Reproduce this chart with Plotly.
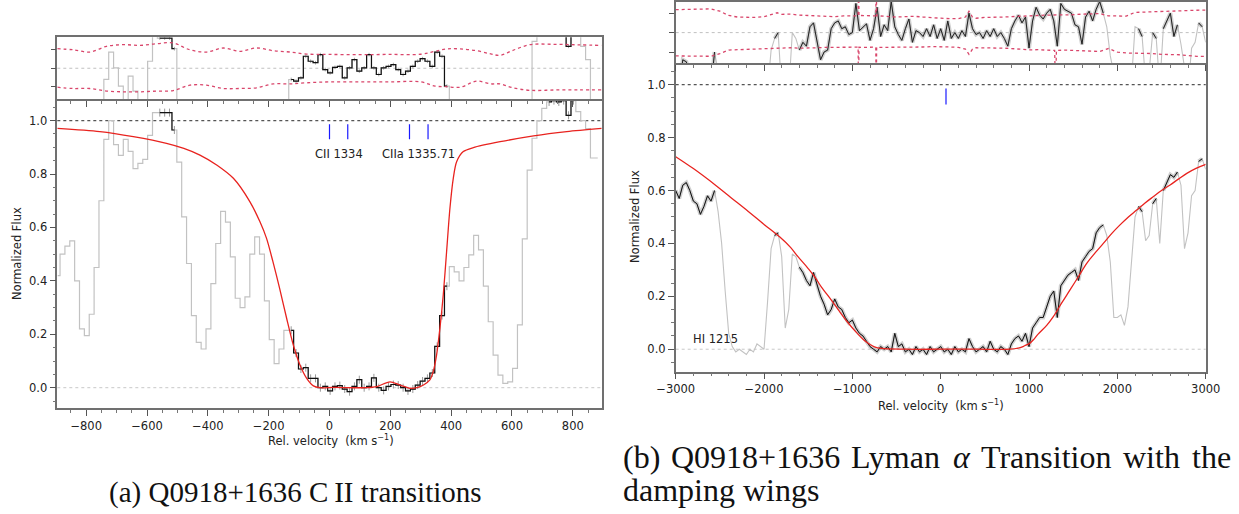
import plotly.graph_objects as go

W, H = 1239, 514

# ---------------- panel (a): C II 1334 and C II* 1335.71 ----------------
VEL_A = list(range(-894, 883, 16))          # km/s, pixel centres
FLUX_A = [
    0.42, 0.50, 0.53, 0.55, 0.40, 0.22, 0.195, 0.275, 0.45, 0.70,
    0.93, 1.00, 0.91, 0.87, 0.93, 0.885, 0.82, 0.84, 0.855, 0.945,
    1.03, 1.03, 1.03, 1.03, 0.965, 0.845, 0.64, 0.465, 0.27, 0.17,
    0.145, 0.22, 0.39, 0.54, 0.66, 0.62, 0.49, 0.335, 0.30, 0.34,
    0.50, 0.565, 0.50, 0.325, 0.18, 0.09, 0.145, 0.215, 0.215, 0.13,
    0.07, 0.075, 0.035, 0.035, 0.00, 0.005, -0.012, 0.005, 0.008, -0.005,
    -0.015, 0.005, 0.03, 0.00, 0.005, 0.037, 0.00, -0.01, 0.005, 0.012,
    0.01, 0.00, -0.012, -0.005, 0.01, 0.025, 0.035, 0.055, 0.155, 0.27,
    0.38, 0.453, 0.434, 0.40, 0.45, 0.497, 0.57, 0.516, 0.38, 0.247,
    0.122, 0.047, 0.016, 0.022, 0.072, 0.235, 0.557, 0.815, 0.934, 1.00,
    1.046, 1.07, 1.075, 1.07, 1.075, 1.02, 1.075, 1.034, 1.00, 0.97,
    0.86, 0.86,
]
RESID_A = [
    -3, -3, -3, -3, -3, -3, -3, -3, -3, -3,
    -0.6, 0.88, 0.02, -0.97, -2.5, -0.43, -1.24, -3, -3, 0.38,
    2.5, 1.64, 1.64, 1.64, 1.06, -3, -3, -3, -3, -3,
    -3, -3, -3, -3, -3, -3, -3, -3, -3, -3,
    -3, -3, -3, -3, -3, -3, -3, -3, -0.61, -0.70,
    -0.52, 0.65, 0.38, 0.30, 0.74, -0.07, -0.25, 0.05, 0.10, -0.52,
    0.02, 0.47, -0.16, 0.02, 0.74, 0.02, -0.34, 0.02, 0.10, 0.20,
    -0.07, -0.34, -0.16, 0.10, 0.38, 0.52, 0.38, 0.10, 0.88, 0.65,
    -0.97, -3, -3, -3, -3, -3, -3, -3, -3, -3,
    -3, -3, -3, -3, -3, -3, -3, -3, 1.46, 2.5,
    2.5, 2.5, 2.5, 2.5, 2.5, 1.19, 2.5, 2.0, 1.19, 0.47,
    -3, -3,
]
FIT_A = [(-570, -505), (-130, 390), (715, 810)]
ERR_A = 0.015

MODEL_A_V = [-895, -755, -645, -536, -479, -426, -371, -316, -262, -229,
             -207, -186, -164, -141, -119, -97, -75, -53, -31, 13,
             122, 155, 199, 232, 265, 287, 309, 330, 341, 352,
             363, 374, 385, 396, 407, 418, 440, 473, 561, 671,
             780, 895]
MODEL_A_F = [0.971, 0.959, 0.940, 0.915, 0.896, 0.871, 0.834, 0.784, 0.697, 0.622,
             0.559, 0.472, 0.372, 0.260, 0.160, 0.085, 0.035, 0.007, 0.0, 0.001,
             0.0, 0.004, 0.022, 0.010, -0.002, 0.0, 0.010, 0.029, 0.060, 0.122,
             0.222, 0.347, 0.509, 0.672, 0.784, 0.846, 0.884, 0.899, 0.921, 0.943,
             0.959, 0.971]

BAND_A_V = [-895, -842, -788, -733, -678, -623, -569, -514, -459, -404,
            -349, -295, -240, -185, -130, -75, 0, 100, 200, 300,
            347, 385, 430, 484, 530, 561, 600, 659, 740, 820, 895]
BAND_A_HI = [1.06, 1.00, 0.88, 1.19, 1.28, 1.24, 1.33, 1.37, 1.00, 0.88,
             1.10, 0.92, 1.10, 0.95, 0.88, 0.77, 0.75, 0.74, 0.75, 0.76,
             0.92, 1.05, 1.05, 0.95, 0.78, 0.70, 0.95, 1.28, 1.30, 1.27, 1.24]
BAND_A_LO = [-1.03, -1.10, -1.10, -1.24, -1.28, -1.28, -1.24, -1.21, -0.92, -0.92,
             -1.10, -1.10, -1.06, -0.85, -0.85, -0.79, -0.74, -0.74, -0.74, -0.74,
             -0.97, -1.00, -1.03, -0.70, -0.85, -0.85, -1.05, -1.20, -1.18, -1.17, -1.17]

LINES_A = [0, 60, 263, 324]
LINE_LABELS_A = [("CII 1334", 30), ("CIIa 1335.71", 293)]

# ---------------- panel (b): H I Lyman alpha ----------------
VEL_B = list(range(-3000, 3001, 40))
FLUX_B = [
    0.60, 0.57, 0.62, 0.63, 0.60, 0.56, 0.55, 0.51, 0.54, 0.58,
    0.56, 0.60, 0.52, 0.40, 0.22, 0.06, 0.01, -0.01, 0.00, -0.01,
    -0.02, 0.00, -0.01, 0.02, 0.01, 0.00, 0.18, 0.38, 0.43, 0.44,
    0.35, 0.08, 0.15, 0.36, 0.35, 0.31, 0.29, 0.26, 0.24, 0.29,
    0.24, 0.20, 0.17, 0.13, 0.15, 0.19, 0.16, 0.15, 0.12, 0.10,
    0.11, 0.08, 0.06, 0.05, 0.03, 0.01, 0.00, -0.01, 0.01, 0.00,
    0.01, -0.01, 0.06, 0.01, 0.02, -0.01, 0.00, -0.02, 0.01, -0.01,
    0.00, -0.02, 0.01, -0.01, 0.00, 0.01, -0.01, 0.00, -0.02, 0.01,
    -0.01, 0.00, -0.01, 0.04, 0.01, -0.01, 0.00, 0.01, -0.01, 0.03,
    0.00, -0.01, 0.01, 0.00, -0.02, 0.02, 0.04, 0.05, 0.03, 0.06,
    0.01, 0.08, 0.10, 0.12, 0.12, 0.16, 0.20, 0.22, 0.12, 0.24,
    0.26, 0.28, 0.29, 0.30, 0.26, 0.33, 0.35, 0.37, 0.38, 0.44,
    0.46, 0.47, 0.43, 0.33, 0.12, 0.12, 0.13, 0.09, 0.16, 0.32,
    0.50, 0.54, 0.52, 0.41, 0.43, 0.55, 0.57, 0.40, 0.60, 0.63,
    0.66, 0.65, 0.67, 0.62, 0.38, 0.44, 0.58, 0.60, 0.71, 0.72,
    0.68,
]
RESID_B = [
    -2.5, -3, -1.4, -1.5, -2.2, -3, -3, -3, -3, -2.5,
    -2.8, -1.0, -3, -3, -3, -3, -3, -3, -3, -3,
    -3, -3, -3, -3, -3, -3, -3, -0.9, -0.3, 0.0,
    -3, -3, -3, 0.0, -0.3, -0.9, -0.5, -0.7, 0.3, 0.5,
    -0.4, -1.4, -1.0, -0.9, 0.2, 0.5, 0.6, 0.2, 0.3, -0.1,
    0.0, 1.5, 0.1, 0.3, 0.45, -0.4, 0.2, 1.3, -0.2, 0.4,
    0.1, 1.6, 0.3, -0.1, -0.4, 0.2, 0.7, -0.5, 0.1, 0.0,
    -0.2, 0.2, -0.2, 0.4, -0.3, 0.2, -0.4, 0.6, -0.3, 0.0,
    -0.3, 0.1, -0.2, 1.0, 0.2, -0.1, 0.0, -0.3, 0.1, -0.2,
    0.2, -0.2, 0.0, -0.3, -0.7, 0.2, 0.6, 0.9, 0.5, 0.8,
    -0.8, 0.6, 1.3, 0.9, 0.7, 1.0, 1.2, 0.6, -0.7, 1.5,
    1.2, 1.1, 1.0, 0.4, 0.3, -0.6, 0.8, 1.1, 0.6, 1.2,
    1.6, 1.0, 0.3, -1.2, -3, -3, -3, -3, -3, -2.5,
    0.3, 0.2, -0.2, -2.5, -2.0, 0.0, -0.3, -2.8, 0.2, 0.6,
    1.0, -0.2, 0.4, -0.6, -3, -3, -0.8, -0.5, 0.5, 0.3,
    -0.5,
]
FIT_B = [(-3000, -2540), (-1880, -1810), (-1610, 1840), (2210, 2280),
         (2400, 2450), (2510, 2690), (2900, 2970)]

MODEL_B_V = [-3000, -2800, -2556, -2400, -2178, -2000, -1824, -1700, -1616, -1500,
             -1427, -1350, -1238, -1150, -1049, -950, -860, -800, -750, -672,
             -400, 0, 400, 785, 900, 950, 1011, 1050, 1100, 1200, 1275, 1370,
             1464, 1560, 1653, 1750, 1841, 1935, 2030, 2125, 2219, 2310,
             2408, 2500, 2597, 2690, 2786, 2890, 3000]
MODEL_B_F = [0.728, 0.683, 0.622, 0.580, 0.521, 0.472, 0.425, 0.385, 0.350, 0.305,
             0.274, 0.235, 0.186, 0.145, 0.100, 0.062, 0.032, 0.018, 0.009, 0.003,
             0.0, 0.0, 0.0, 0.0, 0.006, 0.013, 0.023, 0.036, 0.056, 0.090, 0.123, 0.175,
             0.224, 0.275, 0.325, 0.365, 0.400, 0.437, 0.470, 0.500, 0.526, 0.552,
             0.577, 0.600, 0.621, 0.643, 0.665, 0.684, 0.699]

BAND_B_V = [-3000, -2800, -2600, -2500, -2400, -2300, -2200, -2100, -2000, -1900,
            -1850, -1800, -1700, -1600, -1500, -1400, -1300, -1200, -1100, -1000,
            -935, -930, -925, -900, -800, -735, -730, -725, -700, -600,
            -500, -400, -300, -200, -100, 0, 100, 200, 280, 320,
            360, 400, 500, 600, 700, 800, 900, 1000, 1100, 1200,
            1290, 1300, 1310, 1400, 1500, 1600, 1700, 1800, 1900, 2000,
            2100, 2200, 2300, 2400, 2500, 2600, 2700, 2800, 2900, 3000]
BAND_B_HI = [1.18, 1.19, 1.22, 1.10, 0.88, 0.80, 0.80, 0.78, 0.82, 0.98,
             1.02, 0.94, 0.95, 0.90, 0.88, 0.84, 0.82, 0.82, 0.86, 0.86,
             0.86, 3.0, 0.86, 0.88, 0.88, 0.86, 3.0, 0.86, 0.86, 0.84,
             0.80, 0.82, 0.84, 0.80, 0.76, 0.74, 0.72, 0.72, 0.80, 1.10,
             0.80, 0.74, 0.78, 0.78, 0.80, 0.82, 0.85, 0.85, 0.88, 0.90,
             0.90, 0.90, 0.90, 0.92, 0.92, 0.95, 0.95, 0.98, 0.86, 0.84,
             0.85, 1.04, 1.06, 1.05, 1.07, 1.10, 1.14, 1.16, 1.15, 1.16]
BAND_B_LO = [-1.20, -1.22, -1.22, -1.08, -0.90, -0.88, -0.86, -0.86, -0.84, -0.80,
             -0.78, -0.77, -0.78, -0.80, -0.80, -0.78, -0.76, -0.76, -0.75, -0.75,
             -0.75, -3.0, -0.75, -0.76, -0.76, -0.75, -3.0, -0.75, -0.76, -0.76,
             -0.74, -0.74, -0.76, -0.74, -0.72, -0.72, -0.74, -0.76, -0.85, -1.12,
             -0.85, -0.78, -0.78, -0.80, -0.80, -0.82, -0.86, -0.89, -0.88, -0.90,
             -0.92, -3.0, -0.92, -0.90, -0.92, -0.94, -0.96, -0.97, -0.82, -1.00,
             -1.05, -1.06, -1.05, -1.08, -1.12, -1.12, -1.14, -1.18, -1.22, -1.22]

LINES_B = [60]

# ---------------- styling ----------------
SANS = "DejaVu Sans"
SERIF = "Liberation Serif"
TXT = "#222222"
SPINE = "#707070"
GRAY = "#c2c2c2"
RED = "#e8231f"
BAND = "#d9466b"


def in_fit(v, regions):
    return any(lo <= v <= hi for lo, hi in regions)


def masked(vel, vals, regions):
    return [y if in_fit(v, regions) else None for v, y in zip(vel, vals)]


def fx(p):
    return p / W


def fy(p):
    return 1 - p / H


fig = go.Figure()

# panel (a) main
fig.add_trace(go.Scatter(x=VEL_A, y=FLUX_A, mode="lines", xaxis="x", yaxis="y",
                         line=dict(color=GRAY, width=1.2, shape="hvh")))
fig.add_trace(go.Scatter(x=VEL_A, y=masked(VEL_A, FLUX_A, FIT_A), mode="lines",
                         xaxis="x", yaxis="y", connectgaps=False,
                         line=dict(color="#111111", width=1.2, shape="hvh"),
                         error_y=dict(type="constant", value=ERR_A, color="#9a9a9a",
                                      thickness=1, width=0)))
fig.add_trace(go.Scatter(x=MODEL_A_V, y=MODEL_A_F, mode="lines", xaxis="x", yaxis="y",
                         line=dict(color=RED, width=1.3, shape="spline", smoothing=0.8)))

# panel (a) residuals
fig.add_trace(go.Scatter(x=VEL_A, y=RESID_A, mode="lines", xaxis="x2", yaxis="y2",
                         line=dict(color=GRAY, width=1.2, shape="hvh")))
fig.add_trace(go.Scatter(x=VEL_A, y=masked(VEL_A, RESID_A, FIT_A), mode="lines",
                         xaxis="x2", yaxis="y2", connectgaps=False,
                         line=dict(color="#111111", width=1.2, shape="hvh"),
                         error_y=dict(type="constant", value=0.1, color="#a8a8a8",
                                      thickness=1, width=0)))
for band in (BAND_A_HI, BAND_A_LO):
    fig.add_trace(go.Scatter(x=BAND_A_V, y=band, mode="lines", xaxis="x2", yaxis="y2",
                             line=dict(color=BAND, width=1.3, dash="dot",
                                       shape="spline", smoothing=1.0)))

# panel (b) main
fig.add_trace(go.Scatter(x=VEL_B, y=FLUX_B, mode="lines", xaxis="x3", yaxis="y3",
                         line=dict(color=GRAY, width=1.1)))
fig.add_trace(go.Scatter(x=VEL_B, y=masked(VEL_B, FLUX_B, FIT_B), mode="lines",
                         xaxis="x3", yaxis="y3", connectgaps=False,
                         line=dict(color="rgba(120,120,120,0.35)", width=4)))
fig.add_trace(go.Scatter(x=VEL_B, y=masked(VEL_B, FLUX_B, FIT_B), mode="lines",
                         xaxis="x3", yaxis="y3", connectgaps=False,
                         line=dict(color="#111111", width=1.0)))
fig.add_trace(go.Scatter(x=MODEL_B_V, y=MODEL_B_F, mode="lines", xaxis="x3", yaxis="y3",
                         line=dict(color=RED, width=1.3, shape="spline", smoothing=1.0)))

# panel (b) residuals
fig.add_trace(go.Scatter(x=VEL_B, y=RESID_B, mode="lines", xaxis="x4", yaxis="y4",
                         line=dict(color=GRAY, width=1.1)))
fig.add_trace(go.Scatter(x=VEL_B, y=masked(VEL_B, RESID_B, FIT_B), mode="lines",
                         xaxis="x4", yaxis="y4", connectgaps=False,
                         line=dict(color="rgba(120,120,120,0.35)", width=4)))
fig.add_trace(go.Scatter(x=VEL_B, y=masked(VEL_B, RESID_B, FIT_B), mode="lines",
                         xaxis="x4", yaxis="y4", connectgaps=False,
                         line=dict(color="#222222", width=1.0)))
for band in (BAND_B_HI, BAND_B_LO):
    fig.add_trace(go.Scatter(x=BAND_B_V, y=band, mode="lines", xaxis="x4", yaxis="y4",
                             line=dict(color=BAND, width=1.3, dash="dot")))

# reference lines and transition markers
shapes = []
for xa, ya in (("x", "y"), ("x3", "y3")):
    shapes.append(dict(type="line", xref=f"{xa} domain", yref=ya, x0=0, x1=1, y0=1, y1=1,
                       line=dict(color="#555555", width=1.2, dash="3px,3px"), layer="below"))
    shapes.append(dict(type="line", xref=f"{xa} domain", yref=ya, x0=0, x1=1, y0=0, y1=0,
                       line=dict(color="#c8c8c8", width=1, dash="dot"), layer="below"))
for xa, ya in (("x2", "y2"), ("x4", "y4")):
    shapes.append(dict(type="line", xref=f"{xa} domain", yref=ya, x0=0, x1=1, y0=0, y1=0,
                       line=dict(color="#c0c0c0", width=1, dash="3px,3px"), layer="below"))
for v in LINES_A:
    shapes.append(dict(type="line", xref="x", yref="y", x0=v, x1=v, y0=0.93, y1=0.986,
                       line=dict(color="#1a1aff", width=1.2)))
for v in LINES_B:
    shapes.append(dict(type="line", xref="x3", yref="y3", x0=v, x1=v, y0=0.925, y1=0.986,
                       line=dict(color="#1a1aff", width=1.2)))

ann = []
for label, v in LINE_LABELS_A:
    ann.append(dict(text=label, x=v, y=0.874, xref="x", yref="y", showarrow=False,
                    xanchor="center", yanchor="middle",
                    font=dict(family=SANS, size=11.5, color=TXT)))
ann.append(dict(text="HI 1215", x=-2555, y=0.04, xref="x3", yref="y3", showarrow=False,
                xanchor="center", yanchor="middle",
                font=dict(family=SANS, size=11.5, color=TXT)))
for xp, yp in ((17, 254), (635, 217)):
    ann.append(dict(text="Normalized Flux", x=fx(xp), y=fy(yp), xref="paper", yref="paper",
                    showarrow=False, textangle=-90, xanchor="center", yanchor="middle",
                    font=dict(family=SANS, size=11.5, color=TXT)))
for xp, yp in ((331, 440), (941, 405)):
    ann.append(dict(text="Rel. velocity  (km s<sup>\u22121</sup>)", x=fx(xp), y=fy(yp),
                    xref="paper", yref="paper", showarrow=False,
                    xanchor="center", yanchor="middle",
                    font=dict(family=SANS, size=11.5, color=TXT)))

CAP_A = dict(family=SERIF, size=29, color="#111111")
CAP_B = dict(family=SERIF, size=32, color="#111111")
ann.append(dict(text="(a) Q0918+1636 C\u2009II transitions", x=fx(295), y=fy(492),
                xref="paper", yref="paper", showarrow=False,
                xanchor="center", yanchor="middle", font=CAP_A))
for word, xp in (("(b)", 621), ("Q0918+1636", 669), ("Lyman", 849), ("<i>\u03b1</i>", 951),
                 ("Transition", 979), ("with", 1121), ("the", 1190)):
    ann.append(dict(text=word, x=fx(xp), y=fy(457), xanchor="left", yanchor="middle",
                    xref="paper", yref="paper", showarrow=False, font=CAP_B))
ann.append(dict(text="damping wings", x=fx(621), y=fy(490), xanchor="left",
                yanchor="middle", xref="paper", yref="paper", showarrow=False,
                font=CAP_B))

TICKFONT = dict(family=SANS, size=11.5, color=TXT)
common = dict(showline=True, linecolor=SPINE, linewidth=1.5,
              showgrid=False, zeroline=False, ticks="outside", tickcolor="#555555",
              tickwidth=1, tickfont=TICKFONT, automargin=False)

XA = [fx(57.3), fx(601.7)]
XB = [fx(675.7), fx(1205.7)]

fig.update_layout(
    width=W, height=H, autosize=False,
    margin=dict(l=0, r=0, t=0, b=0, pad=0, autoexpand=False),
    paper_bgcolor="white", plot_bgcolor="white",
    showlegend=False,
    shapes=shapes, annotations=ann,
    xaxis=dict(domain=XA, anchor="y", range=[-895, 895], dtick=200, tick0=0, ticklen=6,
               mirror=False,
               minor=dict(dtick=50, ticks="outside", ticklen=3, tickcolor="#777777"),
               **common),
    yaxis=dict(domain=[fy(408), fy(99)], anchor="x", range=[-0.076, 1.081], dtick=0.2,
               tick0=0, tickformat=".1f", ticklen=6, mirror=True,
               minor=dict(dtick=0.05, ticks="outside", ticklen=3, tickcolor="#777777"),
               **common),
    xaxis2=dict(domain=XA, anchor="y2", matches="x", range=[-895, 895], dtick=200, tick0=0,
                ticklen=6, showticklabels=False, mirror=True,
                minor=dict(dtick=50, ticks="outside", ticklen=3, tickcolor="#777777"),
                **common),
    yaxis2=dict(domain=[fy(99), fy(37.3)], anchor="x2", range=[-1.67, 1.68], mirror=True,
                tickvals=[-1, 0, 1], showticklabels=False, ticklen=5, **common),
    xaxis3=dict(domain=XB, anchor="y3", range=[-3000, 3000], dtick=1000, tick0=0, ticklen=6,
                mirror=False,
                minor=dict(dtick=200, ticks="outside", ticklen=3, tickcolor="#777777"),
                **common),
    yaxis3=dict(domain=[fy(371.7), fy(63.3)], anchor="x3", range=[-0.085, 1.081], dtick=0.2,
                tick0=0, tickformat=".1f", ticklen=6, mirror=True,
                minor=dict(dtick=0.05, ticks="outside", ticklen=3, tickcolor="#777777"),
                **common),
    xaxis4=dict(domain=XB, anchor="y4", matches="x3", range=[-3000, 3000], dtick=1000,
                tick0=0, ticklen=6, showticklabels=False, mirror=True,
                minor=dict(dtick=200, ticks="outside", ticklen=3, tickcolor="#777777"),
                **common),
    yaxis4=dict(domain=[fy(63.3), fy(1.7)], anchor="x4", range=[-1.58, 1.59], mirror=True,
                tickvals=[-1, 0, 1], showticklabels=False, ticklen=5, **common),
)

fig.write_html("out.html")
